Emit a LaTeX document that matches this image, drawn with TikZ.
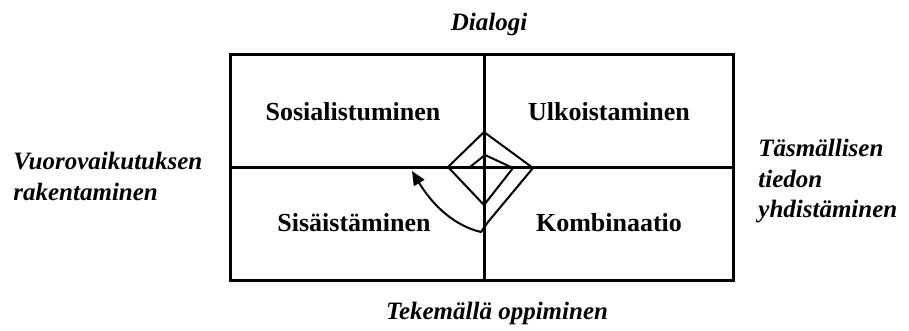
\documentclass[tikz,border=0pt]{standalone}
\usepackage{fontspec}
\setmainfont{Liberation Serif}
\usetikzlibrary{arrows.meta,positioning}
\tikzset{
    quadtext/.style={
        font=\fontsize{13}{15}\selectfont\bfseries,
        inner sep=0pt
    },
    axistext/.style={
        font=\fontsize{12.5}{15.5}\selectfont\bfseries\itshape,
        inner sep=0pt
    }
}

\begin{document}
\begin{tikzpicture}[
        x=0.5pt, y=-0.5pt,
        frame/.style={draw, line width=1.5pt},
        spiral/.style={draw, line width=1pt, line join=round}
    ]
    \useasboundingbox (0,0) rectangle (909,331);
    % the four fields
    \draw[frame] (230,55) rectangle (733,280);
    \coordinate (top) at (484,55);
    \coordinate (bot) at (484,280);
    \coordinate (lft) at (230,168);
    \coordinate (rgt) at (733,168);
    \draw[frame] (top) -- (bot);
    \draw[frame] (lft) -- (rgt);
    \node[quadtext] (sos) at (353,112) {Sosialistuminen};
    \node[quadtext] (ulk) at (609,112) {Ulkoistaminen};
    \node[quadtext] (sis) at (354,223) {Sisäistäminen};
    \node[quadtext] (kom) at (609,223) {Kombinaatio};
    % labels round the box
    \node[axistext, anchor=base] (dia) at (489,31) {Dialogi};
    \node[axistext, anchor=base] (tek) at (497,319) {Tekemällä oppiminen};
    \node[axistext, anchor=base west] (vuo) at (13,170) {Vuorovaikutuksen};
    \node[axistext, anchor=base west] (rak) at (13,201) {rakentaminen};
    \node[axistext, anchor=base west] (tas) at (758,157) {Täsmällisen};
    \node[axistext, anchor=base west] (tie) at (758,188) {tiedon};
    \node[axistext, anchor=base west] (yhd) at (758,218) {yhdistäminen};
    % knowledge spiral
    \draw[spiral, -{Triangle[length=7pt,width=6pt]}]
        (470,167) -- (485,155) -- (513,168) -- (484,205) -- (448,167)
        -- (484,132) -- (533,168) -- (488,222) -- (481,232)
        .. controls (455,226) and (433,206) .. (412,171);
\end{tikzpicture}
\end{document}
